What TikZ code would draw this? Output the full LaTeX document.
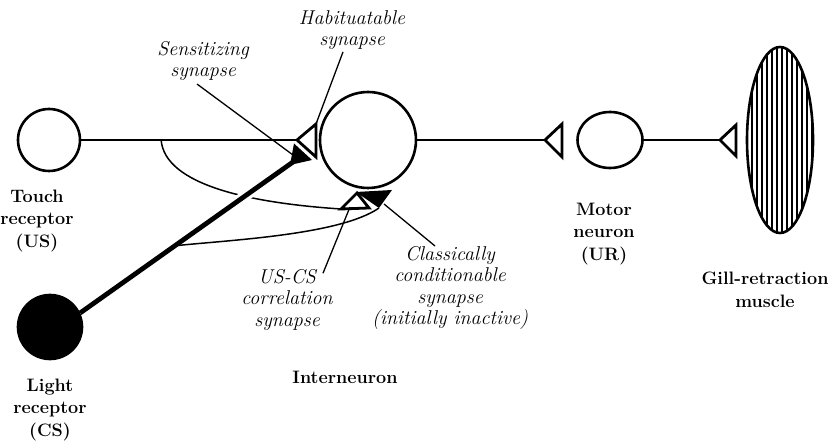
\documentclass[tikz,border=0pt]{standalone}
\usepackage{tikz}
\usetikzlibrary{
  calc,            % 坐标计算
  shapes.geometric % 椭圆节点
}
\tikzset{
  cell body/.style={
    circle,
    draw,
    line width=2.6pt,
    inner sep=0pt
  },
  axon/.style={
    line width=2.2pt
  },
  thick axon/.style={
    line width=4.8pt
  },
  branch/.style={
    line width=1.5pt
  },
  pointer/.style={
    line width=1.3pt
  },
  open synapse/.style={
    draw,
    fill=white,
    line width=2.8pt,
    line join=miter
  },
  cell label/.style={
    font=\bfseries\fontsize{18}{22.5}\selectfont,
    align=center,
    inner sep=0pt
  },
  syn label/.style={
    font=\itshape\fontsize{20}{21.5}\selectfont,
    align=center,
    inner sep=0pt
  }
}

\begin{document}
\begin{tikzpicture}[x=1pt, y=-1pt]
    \useasboundingbox (0,0) rectangle (837,443);

    % --- 细胞体 ---
    \node[cell body, minimum size=62pt] (touch) at (49,140) {};
    \node[cell body, fill=black, minimum size=64pt] (light) at (50,327) {};
    \node[cell body, minimum size=96pt] (inter) at (368,140) {};
    \node[ellipse, draw, line width=2.6pt, inner sep=0pt,
          minimum width=65pt, minimum height=56pt] (motor) at (610,140) {};
    \node[ellipse, draw, line width=2.6pt, inner sep=0pt,
          minimum width=66pt, minimum height=186pt] (muscle) at (780,140) {};

    % 肌肉的竖条纹
    \begin{scope}
      \clip (780,140) ellipse [x radius=33, y radius=93];
      \foreach \hx in {752,757,...,812}
        \draw[line width=1.3pt] (\hx,40) -- (\hx,240);
    \end{scope}

    % --- 突触位置 ---
    \coordinate (habsyn) at (297,140);
    \coordinate (motsyn) at (545,140);
    \coordinate (musyn) at (720,140);
    \coordinate (sens) at (293,162);
    \coordinate (uscs) at (341,209);
    \coordinate (cond) at (379,208);

    % --- 轴突 ---
    \draw[axon] (touch) -- (habsyn) coordinate[pos=0.37] (usbranch);
    \draw[axon] (inter) -- (motsyn);
    \draw[axon] (motor) -- (musyn);

    % 分支细线
    \draw[branch] (usbranch) .. controls (165,185) and (250,203) .. (uscs);
    \draw[thick axon, preaction={draw=white, line width=11pt,
          shorten <=12pt, shorten >=12pt}]
      (light.25) -- (sens) coordinate[pos=0.445] (csbranch);
    \draw[branch] (csbranch) .. controls (230,240) and (340,235) .. (cond);

    % --- 突触 ---
    \fill (294,143.5) -- (312,160) -- (290,165) -- cycle;
    \draw[open synapse] (habsyn) -- (316,124) -- (316,157) -- cycle;
    \draw[open synapse] (motsyn) -- (562,124) -- (562,157) -- cycle;
    \draw[open synapse] (musyn) -- (736,125) -- (736,156) -- cycle;
    \fill (356,192) -- (392,190) -- (cond) -- cycle;
    \draw[open synapse] (uscs) -- (357,193) -- (369,208) -- cycle;

    % --- 文字 ---
    \node[cell label] (touchl) at (37,221) {Touch\\receptor\\(US)};
    \node[cell label] (lightl) at (50,410) {Light\\receptor\\(CS)};
    \node[cell label] (interl) at (345,377) {Interneuron};
    \node[cell label] (motorl) at (604,234) {Motor\\neuron\\(UR)};
    \node[cell label] (musclel) at (765,290) {Gill-retraction\\muscle};

    \node[syn label] (habl) at (352,30) {Habituatable\\synapse};
    \node[syn label] (sensl) at (203,61) {Sensitizing\\synapse};
    \node[syn label] (uscsl) at (287,300) {US-CS\\correlation\\synapse};
    \node[syn label] (classl) at (450,288)
      {Classically\\conditionable\\synapse\\(initially inactive)};

    % 指示线
    \draw[pointer] ($(habl.south)+(-9,2)$) -- (316,124);
    \draw[pointer] ($(sensl.south)+(-6,3)$) -- (293,155);
    \draw[pointer] ($(uscsl.north)+(36,4)$) -- (350,207);
    \draw[pointer] ($(classl.north)+(-15,0)$) -- (384,204);

  \end{tikzpicture}
\end{document}
